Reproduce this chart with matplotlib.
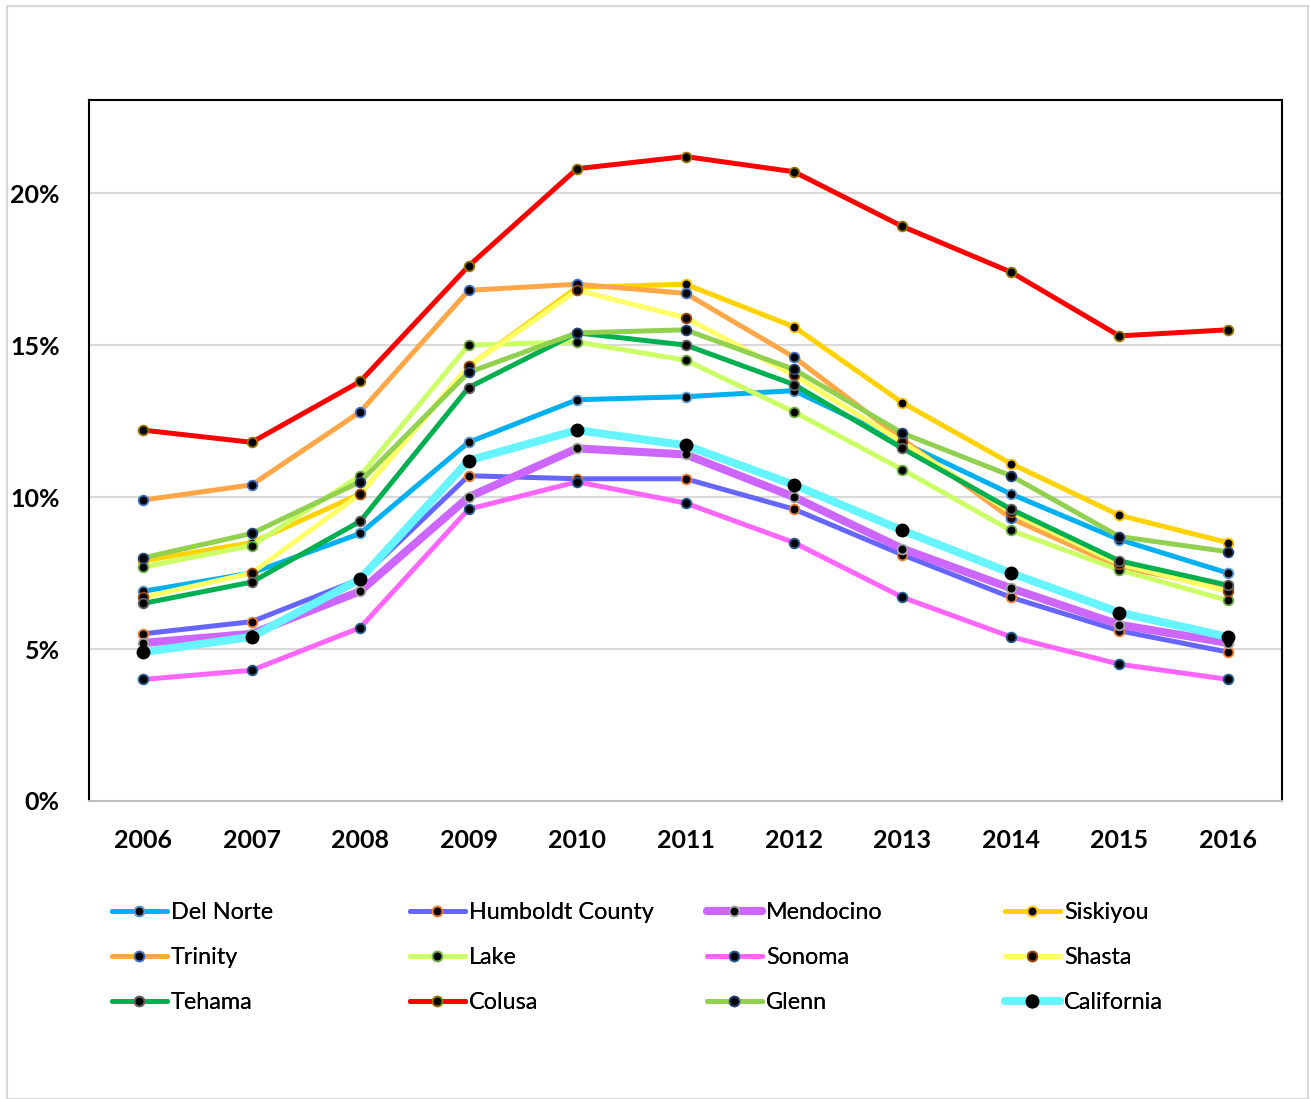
import matplotlib.pyplot as plt
from matplotlib.patches import Rectangle
from matplotlib.ticker import FuncFormatter

plt.rcParams['font.family'] = ['Lato', 'DejaVu Sans']

years = [2006, 2007, 2008, 2009, 2010, 2011, 2012, 2013, 2014, 2015, 2016]

# unemployment rate, percent
del_norte = [6.9, 7.5, 8.8, 11.8, 13.2, 13.3, 13.5, 11.8, 10.1, 8.6, 7.5]
humboldt = [5.5, 5.9, 7.3, 10.7, 10.6, 10.6, 9.6, 8.1, 6.7, 5.6, 4.9]
mendocino = [5.2, 5.5, 6.9, 10.0, 11.6, 11.4, 10.0, 8.3, 7.0, 5.8, 5.2]
siskiyou = [7.9, 8.5, 10.1, 14.3, 16.9, 17.0, 15.6, 13.1, 11.1, 9.4, 8.5]
trinity = [9.9, 10.4, 12.8, 16.8, 17.0, 16.7, 14.6, 11.9, 9.3, 7.7, 7.0]
lake = [7.7, 8.4, 10.7, 15.0, 15.1, 14.5, 12.8, 10.9, 8.9, 7.6, 6.6]
sonoma = [4.0, 4.3, 5.7, 9.6, 10.5, 9.8, 8.5, 6.7, 5.4, 4.5, 4.0]
shasta = [6.7, 7.5, 10.1, 14.3, 16.8, 15.9, 14.0, 11.8, 9.5, 7.8, 6.9]
tehama = [6.5, 7.2, 9.2, 13.6, 15.4, 15.0, 13.7, 11.6, 9.6, 7.9, 7.1]
colusa = [12.2, 11.8, 13.8, 17.6, 20.8, 21.2, 20.7, 18.9, 17.4, 15.3, 15.5]
glenn = [8.0, 8.8, 10.5, 14.1, 15.4, 15.5, 14.2, 12.1, 10.7, 8.7, 8.2]
california = [4.9, 5.4, 7.3, 11.2, 12.2, 11.7, 10.4, 8.9, 7.5, 6.2, 5.4]

names = ['Del Norte', 'Humboldt County', 'Mendocino', 'Siskiyou',
         'Trinity', 'Lake', 'Sonoma', 'Shasta',
         'Tehama', 'Colusa', 'Glenn', 'California']
series = [del_norte, humboldt, mendocino, siskiyou, trinity, lake,
          sonoma, shasta, tehama, colusa, glenn, california]
line_colors = ['#00B0F0', '#6666FF', '#CC66FF', '#FFD200',
               '#FFA646', '#CCFF66', '#FF66FF', '#FFFF66',
               '#00B050', '#FF0000', '#92D050', '#66F5FF']
edge_colors = ['#5B9BD5', '#ED7D31', '#A5A5A5', '#FFC000',
               '#4472C4', '#70AD47', '#255E91', '#9E480E',
               '#636363', '#997300', '#264478', '#000000']
widths = [3.6, 3.6, 5.8, 3.6, 3.6, 3.6, 3.6, 3.6, 3.6, 3.6, 3.6, 5.8]

fig = plt.figure(figsize=(13.1, 10.99), dpi=100)
ax = fig.add_axes([89 / 1310, 1 - 801 / 1099, (1282 - 89) / 1310, (801 - 100) / 1099])

handles = []
for name, vals, c, ec, lw in zip(names, series, line_colors, edge_colors, widths):
    ms = 7.0
    mew = 1.3
    if name == 'California':
        ms = 10.0
        mew = 0
    h, = ax.plot(years, [v / 100 for v in vals], color=c, lw=lw, marker='o',
                 markersize=ms, markerfacecolor='black', markeredgecolor=ec,
                 markeredgewidth=mew, label=name, solid_capstyle='round')
    handles.append(h)

ax.set_xlim(2005.5, 2016.5)
ax.set_ylim(0, 0.2306)
ax.set_xticks(years)
ax.set_yticks([0, 0.05, 0.10, 0.15, 0.20])
ax.yaxis.set_major_formatter(FuncFormatter(lambda v, p: '{:.0f}%'.format(v * 100)))
ax.grid(axis='y', color='#D9D9D9', lw=1.5)
ax.set_axisbelow(True)
ax.tick_params(length=0, labelsize=18)
ax.tick_params(axis='y', pad=21)
ax.tick_params(axis='x', pad=20)
for lab in ax.get_xticklabels() + ax.get_yticklabels():
    lab.set_fontweight('bold')

for side in ['left', 'top', 'right']:
    ax.spines[side].set_color('black')
    ax.spines[side].set_linewidth(1.5)
ax.spines['bottom'].set_color('#BFBFBF')
ax.spines['bottom'].set_linewidth(1.5)

# legend laid out as 4 columns, one legend per column
col_x = [112, 410, 707, 1005]
for i in range(4):
    hs = [handles[i], handles[i + 4], handles[i + 8]]
    leg = fig.legend(handles=hs, labels=[h.get_label() for h in hs],
                     loc='upper left', bbox_to_anchor=(col_x[i] / 1310, 1 - 902 / 1099),
                     frameon=False, fontsize=16.8, handlelength=2.35,
                     handletextpad=0.17, labelspacing=1.03, borderpad=0,
                     borderaxespad=0)
    fig.add_artist(leg)

# outer chart border
fig.add_artist(Rectangle((7 / 1310, 0), 1301 / 1310, 1 - 6 / 1099,
                         transform=fig.transFigure, fill=False,
                         edgecolor='#D9D9D9', lw=1.5))

fig.savefig('out.png', dpi=100)
